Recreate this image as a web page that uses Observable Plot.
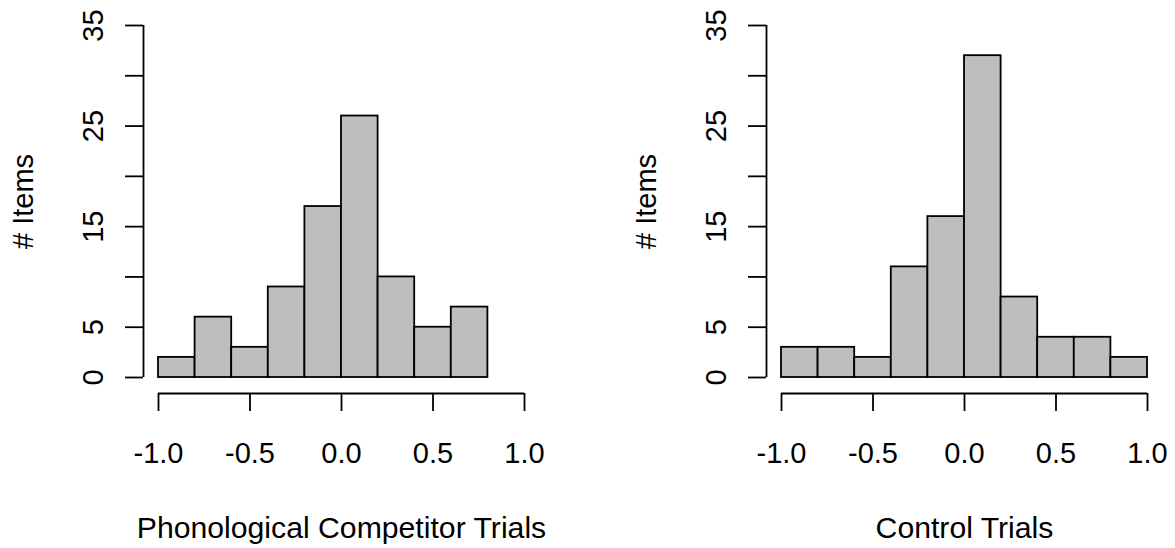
<!DOCTYPE html>
<html>
<head>
<meta charset="utf-8">
<script src="https://cdn.jsdelivr.net/npm/d3@7"></script>
<script src="https://cdn.jsdelivr.net/npm/@observablehq/plot@0.6"></script>
<style>
  html, body { margin: 0; padding: 0; background: white; }
  #wrap { position: relative; width: 1175px; height: 548px; overflow: hidden; }
  #left { position: absolute; left: 0; top: 0; }
  #right { position: absolute; left: 623px; top: 0; }
</style>
</head>
<body>
<div id="wrap"><div id="left"></div><div id="right"></div></div>
<script>
// ---- data ----
const breaksPhon = [-1.0, -0.8, -0.6, -0.4, -0.2, 0.0, 0.2, 0.4, 0.6, 0.8];
const countsPhon = [2, 6, 3, 9, 17, 26, 10, 5, 7];
const breaksCtrl = [-1.0, -0.8, -0.6, -0.4, -0.2, 0.0, 0.2, 0.4, 0.6, 0.8, 1.0];
const countsCtrl = [3, 3, 2, 11, 16, 32, 8, 4, 4, 2];
const xTicks = [-1.0, -0.5, 0.0, 0.5, 1.0];
const yTicks = [0, 5, 10, 15, 20, 25, 30, 35];
const yLabelTicks = [0, 5, 15, 25, 35];
const yLabel = "# Items";
const titlePhon = "Phonological Competitor Trials";
const titleCtrl = "Control Trials";

const FONT = "'Liberation Sans', Arial, Helvetica, sans-serif";
const FS = 29;
const FS_TITLE = 30.2;
const LW = 1.8;

function panel(breaks, counts, title, width, marginRight) {
  const bins = counts.map((c, i) => ({x1: breaks[i], x2: breaks[i + 1], count: c}));
  const xMid = (xTicks[0] + xTicks[xTicks.length - 1]) / 2;
  const yMid = (yTicks[0] + yTicks[yTicks.length - 1]) / 2;
  return Plot.plot({
    width,
    height: 548,
    marginLeft: 143,
    marginRight,
    marginTop: 25,
    marginBottom: 155,
    style: {fontFamily: FONT, fontSize: FS + "px", background: "white", color: "black", overflow: "visible"},
    x: {domain: [xTicks[0], xTicks[xTicks.length - 1]], insetLeft: 15},
    y: {domain: [yTicks[0], yTicks[yTicks.length - 1]], insetBottom: 16},
    marks: [
      Plot.rectY(bins, {x1: "x1", x2: "x2", y1: 0, y2: "count", fill: "#bebebe", stroke: "black", strokeWidth: LW}),
      // x axis line + ticks + labels
      Plot.ruleY([0], {x1: xTicks[0], x2: xTicks[xTicks.length - 1], dy: 16, stroke: "black", strokeWidth: LW}),
      Plot.axisX({ticks: xTicks, tickSize: 18, tickPadding: 31, tickFormat: d => d.toFixed(1),
                  label: null, stroke: "black", strokeWidth: LW, fill: "black", fontSize: FS}),
      // y axis line + ticks
      Plot.ruleX([xTicks[0]], {y1: yTicks[0], y2: yTicks[yTicks.length - 1], dx: -15, stroke: "black", strokeWidth: LW}),
      Plot.axisY({ticks: yTicks, tickSize: 18, label: null, stroke: "black", strokeWidth: LW, fill: "none"}),
      // rotated y tick labels
      Plot.text(yLabelTicks, {y: d => d, text: d => String(d), frameAnchor: "left", dx: -41, rotate: -90,
                              textAnchor: "middle", lineAnchor: "bottom", fontSize: FS, fill: "black"}),
      // y axis title
      Plot.text([yLabel], {y: () => yMid, text: d => d, frameAnchor: "left", dx: -111, rotate: -90,
                           textAnchor: "middle", lineAnchor: "bottom", fontSize: FS, fill: "black"}),
      // x axis title
      Plot.text([title], {x: () => xMid, text: d => d, frameAnchor: "bottom", dy: 144,
                          textAnchor: "middle", lineAnchor: "bottom", fontSize: FS_TITLE, fill: "black"})
    ]
  });
}

document.getElementById("left").appendChild(panel(breaksPhon, countsPhon, titlePhon, 600, 76));
document.getElementById("right").appendChild(panel(breaksCtrl, countsCtrl, titleCtrl, 552, 28));
</script>
</body>
</html>
